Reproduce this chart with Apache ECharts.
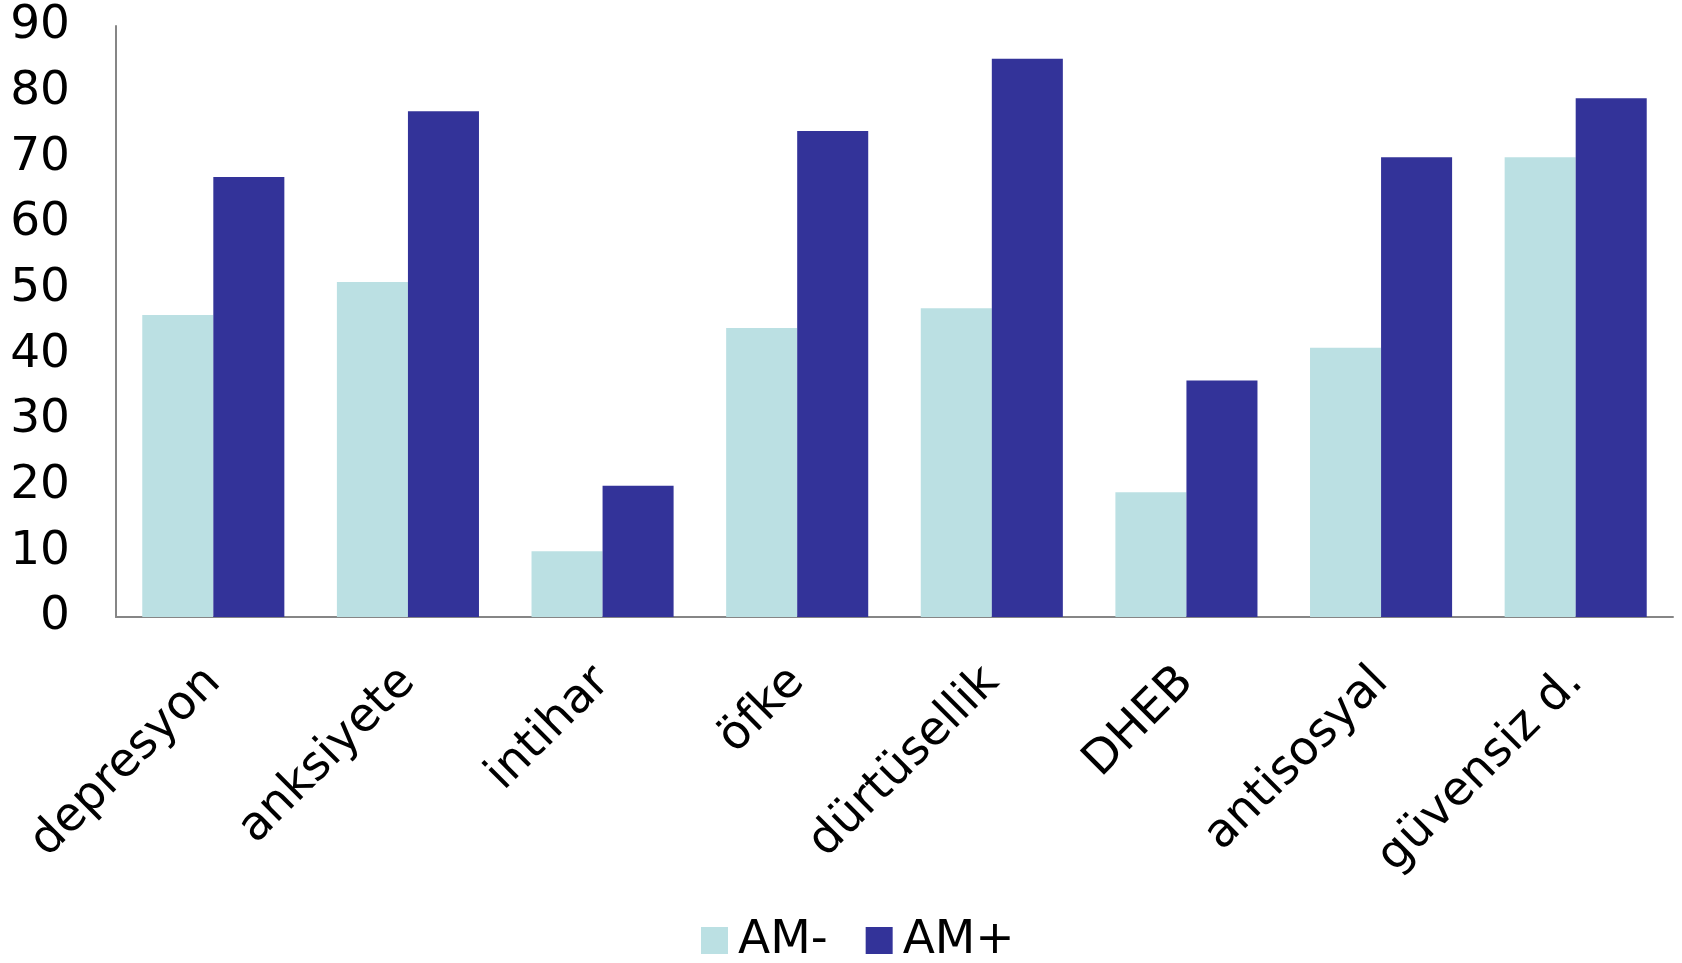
<!DOCTYPE html>
<html>
<head>
<meta charset="utf-8">
<script src="https://cdn.jsdelivr.net/npm/echarts@6/dist/echarts.min.js"></script>
<style>
html,body{margin:0;padding:0;background:#fff;}
#chart{width:1682px;height:963px;}
</style>
</head>
<body>
<div id="chart"></div>
<script>
const categories = ['depresyon','anksiyete','intihar','öfke','dürtüsellik','DHEB','antisosyal','güvensiz d.'];
const amMinus = [46, 51, 10, 44, 47, 19, 41, 70];
const amPlus = [67, 77, 20, 74, 85, 36, 70, 79];
const seriesNames = ['AM-', 'AM+'];
const yTicks = [0, 10, 20, 30, 40, 50, 60, 70, 80, 90];

const FONT = 'DejaVu Sans';
const chart = echarts.init(document.getElementById('chart'));
chart.setOption({
  animation: false,
  backgroundColor: '#ffffff',
  textStyle: { fontFamily: FONT },
  grid: { left: 116, right: 9, top: 26, bottom: 346, containLabel: false },
  legend: {
    data: seriesNames,
    left: 696,
    top: 912,
    itemWidth: 27,
    itemHeight: 27,
    itemGap: 38,
    icon: 'rect',
    textStyle: { fontFamily: FONT, fontSize: 47, color: '#000', padding: [0, 0, 0, 5] }
  },
  xAxis: {
    type: 'category',
    data: categories,
    axisLine: { lineStyle: { color: '#868686', width: 2 } },
    axisTick: { show: false },
    axisLabel: { rotate: 45, fontSize: 47, color: '#000', fontFamily: FONT, margin: 58, interval: 0 }
  },
  yAxis: {
    type: 'value',
    min: yTicks[0],
    max: yTicks[yTicks.length - 1],
    interval: 10,
    axisLine: { show: true, lineStyle: { color: '#868686', width: 2 } },
    axisTick: { show: false },
    splitLine: { show: false },
    axisLabel: { fontSize: 47, color: '#000', fontFamily: FONT, margin: 46 }
  },
  series: [
    { name: seriesNames[0], type: 'bar', data: amMinus, barGap: '0%', barCategoryGap: '27%', itemStyle: { color: '#BBE0E3' } },
    { name: seriesNames[1], type: 'bar', data: amPlus, barGap: '0%', barCategoryGap: '27%', itemStyle: { color: '#333399' } }
  ]
});
</script>
</body>
</html>
